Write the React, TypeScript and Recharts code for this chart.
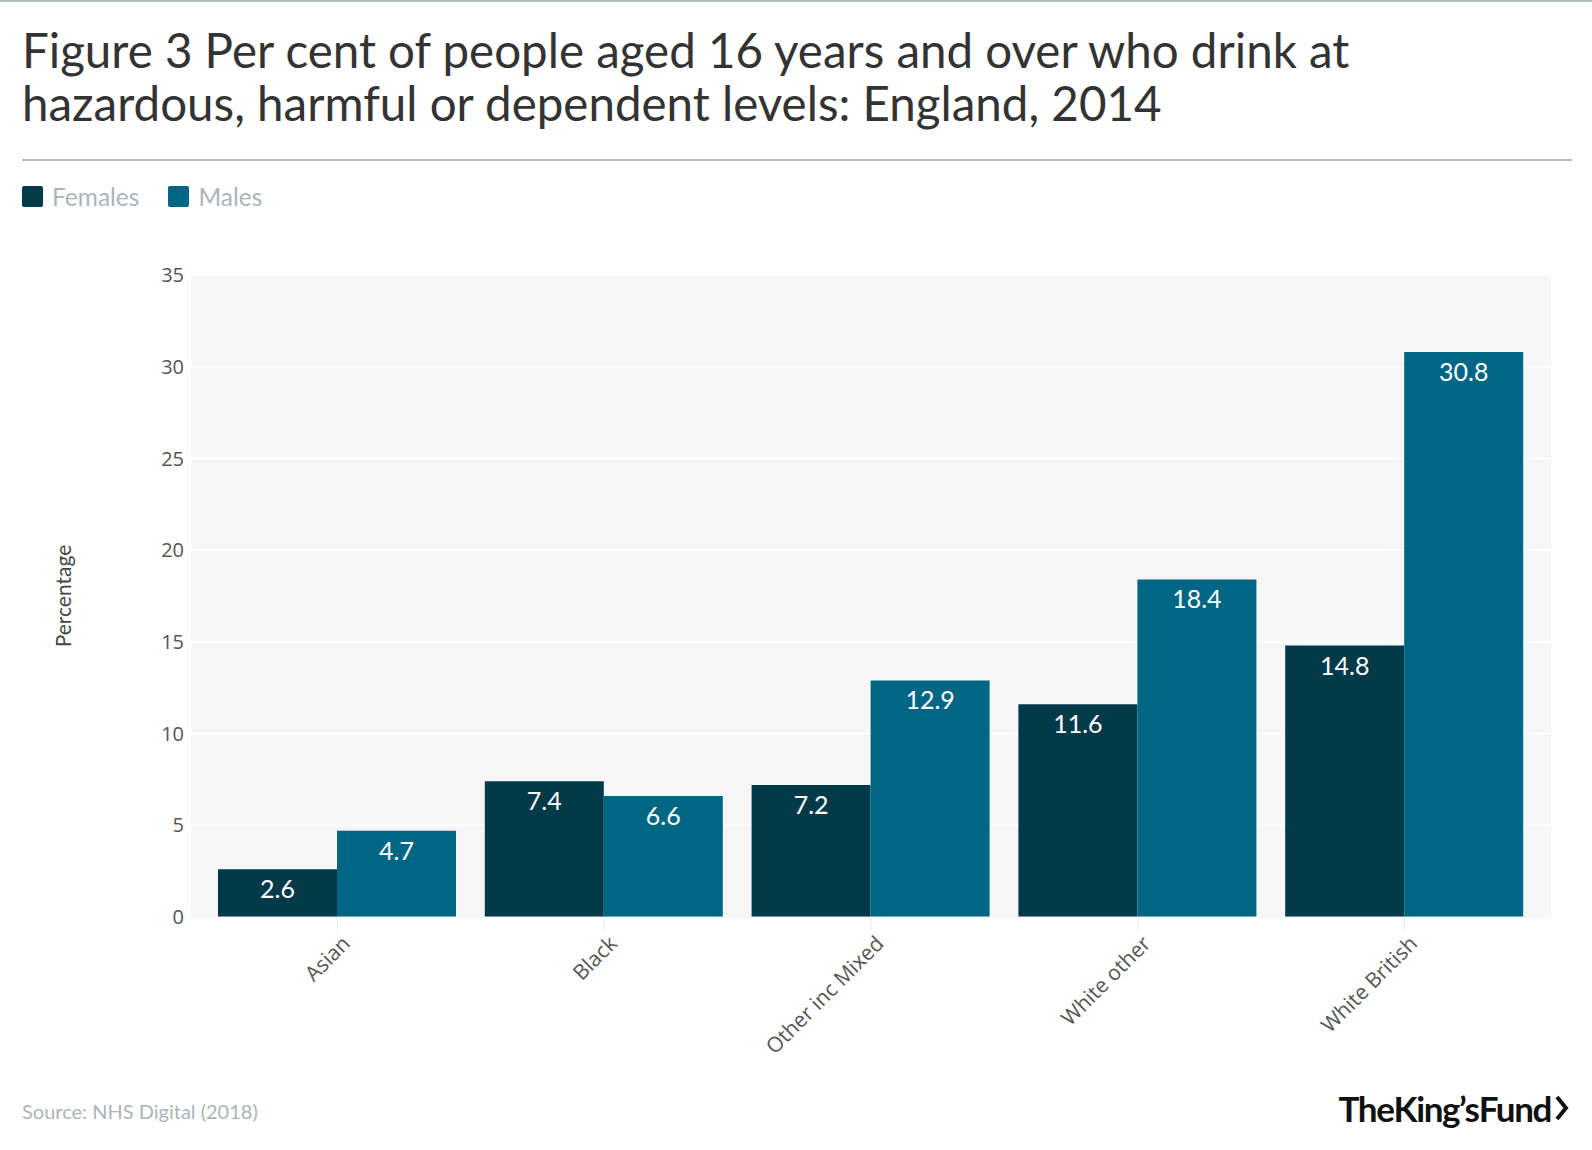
import React from "react";
import { Bar, BarChart, CartesianGrid, LabelList, XAxis, YAxis } from "recharts";

const groups = ["Asian", "Black", "Other inc Mixed", "White other", "White British"];
const females = [2.6, 7.4, 7.2, 11.6, 14.8];
const males = [4.7, 6.6, 12.9, 18.4, 30.8];
const yTicks = [0, 5, 10, 15, 20, 25, 30, 35];

const FEMALE = "#023a4a";
const MALE = "#006684";
const MUTED = "#aab4bb";
const TEXT_FONT = "'Source Sans Pro', Lato, sans-serif";
const AXIS_FONT = "'Open Sans', sans-serif";

const data = groups.map((group, i) => ({ group, females: females[i], males: males[i] }));

function ValueLabel(props: any) {
  const { x, y, width, value } = props;
  return (
    <text
      x={x + width / 2}
      y={y + 29}
      textAnchor="middle"
      fill="#fff"
      fontSize={25}
      fontFamily={TEXT_FONT}
    >
      {value}
    </text>
  );
}

function GroupTick(props: any) {
  const { x, y, payload } = props;
  return (
    <g transform={`translate(${x + 14},${y + 12})`}>
      <text
        transform="rotate(-45)"
        textAnchor="end"
        fill="#555"
        fontSize={21}
        fontFamily={AXIS_FONT}
      >
        {payload.value}
      </text>
    </g>
  );
}

function LegendItem({ color, label }: { color: string; label: string }) {
  return (
    <span style={{ display: "flex", alignItems: "center", gap: 9, marginRight: 29 }}>
      <span style={{ width: 21, height: 21, borderRadius: 2, background: color }} />
      <span style={{ color: MUTED, fontSize: 24.5 }}>{label}</span>
    </span>
  );
}

export default function App() {
  return (
    <div
      style={{
        position: "absolute",
        left: 0,
        top: 0,
        width: 1592,
        height: 1150,
        background: "#fff",
        fontFamily: TEXT_FONT,
        overflow: "hidden",
      }}
    >
      <div style={{ position: "absolute", left: 0, top: 0, width: 1592, height: 2, background: "#b4bcc1" }} />
      <div
        style={{
          position: "absolute",
          left: 22,
          top: 23,
          width: 1560,
          fontSize: 47.5,
          lineHeight: "53px",
          color: "#333",
        }}
      >
        Figure 3 Per cent of people aged 16 years and over who drink at
        <br />
        hazardous, harmful or dependent levels: England, 2014
      </div>
      <div style={{ position: "absolute", left: 22, top: 159, width: 1550, height: 2, background: "#b4bcc1" }} />
      <div style={{ position: "absolute", left: 22, top: 182, display: "flex" }}>
        <LegendItem color={FEMALE} label="Females" />
        <LegendItem color={MALE} label="Males" />
      </div>

      <div style={{ position: "absolute", left: 0, top: 0 }}>
        <BarChart
          width={1592}
          height={1150}
          data={data}
          margin={{ top: 275, right: 41, left: 51, bottom: 103 }}
          barCategoryGap={14}
          barGap={0}
        >
          <CartesianGrid vertical={false} fill="#f6f6f6" stroke="#ffffff" strokeWidth={2} />
          <XAxis
            dataKey="group"
            height={130}
            interval={0}
            padding={{ left: 13, right: 13 }}
            axisLine={{ stroke: "#ececec" }}
            tickLine={{ stroke: "#ececec" }}
            tickSize={14}
            tick={<GroupTick />}
          />
          <YAxis
            width={140}
            domain={[0, 35]}
            ticks={yTicks}
            axisLine={false}
            tickLine={false}
            tickSize={0}
            tickMargin={7}
            tick={{ fill: "#555", fontSize: 20, fontFamily: AXIS_FONT }}
            label={{
              value: "Percentage",
              angle: -90,
              position: "insideLeft",
              offset: 13,
              style: { fill: "#444", fontSize: 21, fontFamily: TEXT_FONT, textAnchor: "middle" },
            }}
          />
          <Bar dataKey="females" fill={FEMALE} isAnimationActive={false}>
            <LabelList dataKey="females" content={<ValueLabel />} />
          </Bar>
          <Bar dataKey="males" fill={MALE} isAnimationActive={false}>
            <LabelList dataKey="males" content={<ValueLabel />} />
          </Bar>
        </BarChart>
      </div>

      <div style={{ position: "absolute", left: 22, top: 1099, fontSize: 20, color: MUTED }}>
        Source: NHS Digital (2018)
      </div>
      <div
        style={{
          position: "absolute",
          right: 22,
          top: 1087,
          display: "flex",
          alignItems: "center",
          color: "#111",
          fontWeight: 700,
          fontSize: 35,
          letterSpacing: -1.4,
          wordSpacing: -7,
        }}
      >
        <span>The King’s Fund</span>
        <svg width={16} height={28} style={{ marginLeft: 3 }}>
          <polyline points="3,3 12,14 3,25" fill="none" stroke="#111" strokeWidth={4} />
        </svg>
      </div>
    </div>
  );
}
